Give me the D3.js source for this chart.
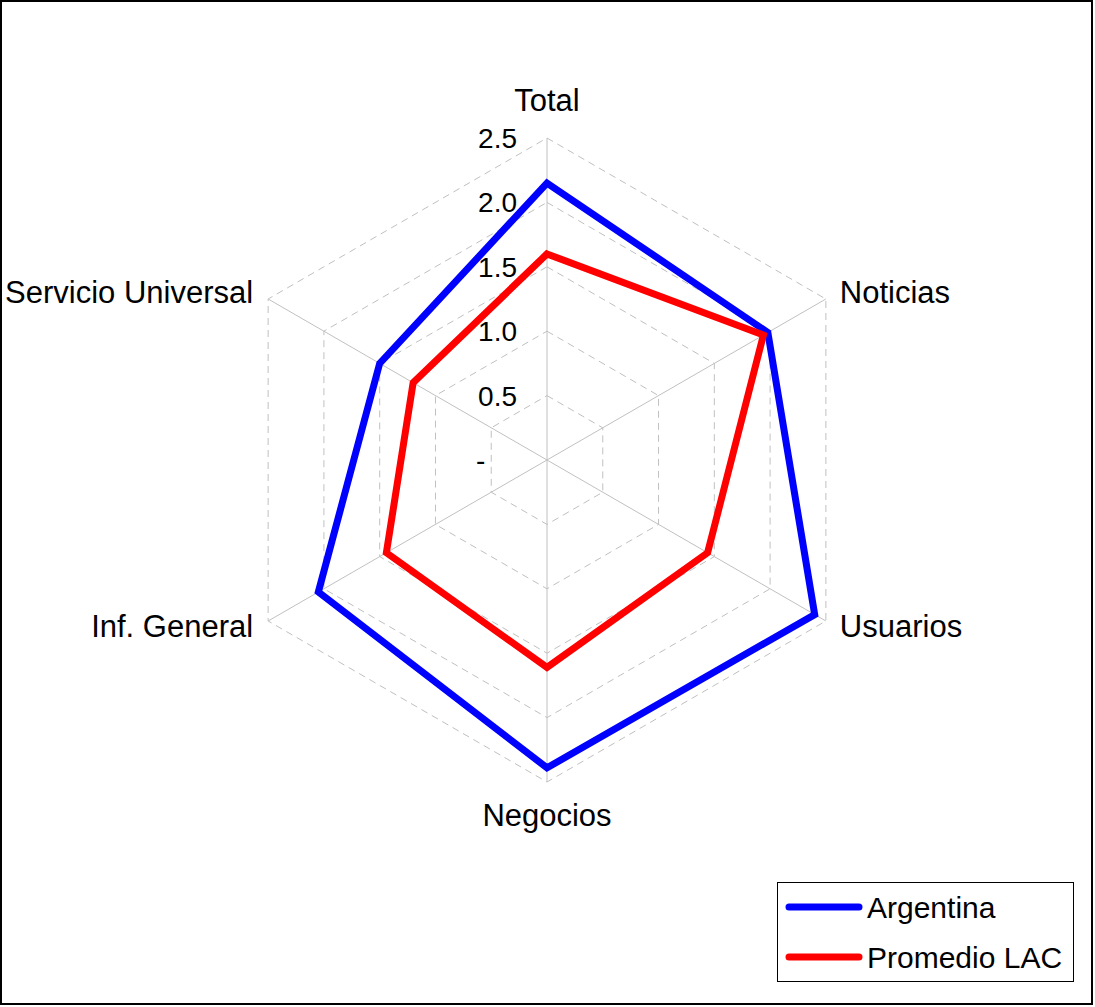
<!DOCTYPE html>
<html>
<head>
<meta charset="utf-8">
<script src="https://cdn.jsdelivr.net/npm/d3@7"></script>
<style>
  html, body { margin: 0; padding: 0; background: #fff; }
  svg { display: block; }
  text { font-family: "Liberation Sans", Arial, sans-serif; fill: #000; }
</style>
</head>
<body>
<div id="chart"></div>
<script>
const categories = ["Total", "Noticias", "Usuarios", "Negocios", "Inf. General", "Servicio Universal"];
const argentina = [2.15, 1.98, 2.40, 2.39, 2.05, 1.50];
const promedioLAC = [1.60, 1.94, 1.44, 1.61, 1.44, 1.20];
const tickValues = [0, 0.5, 1.0, 1.5, 2.0, 2.5];
const tickLabels = ["-", "0.5", "1.0", "1.5", "2.0", "2.5"];
const seriesNames = ["Argentina", "Promedio LAC"];
const seriesColors = ["#0000FF", "#FF0000"];

const W = 1095, H = 1007;
const cx = 547, cy = 460, R = 322;

const svg = d3.select("#chart").append("svg")
  .attr("width", W).attr("height", H);

svg.append("rect").attr("x", 1).attr("y", 1).attr("width", W - 4).attr("height", H - 4)
  .attr("fill", "#fff").attr("stroke", "#000").attr("stroke-width", 2);

const r = d3.scaleLinear().domain([0, 2.5]).range([0, R]);
const angle = d3.scalePoint().domain(categories).range([0, 2 * Math.PI * (categories.length - 1) / categories.length]);

function pt(cat, v) {
  const a = angle(cat) - Math.PI / 2;
  return [cx + r(v) * Math.cos(a), cy + r(v) * Math.sin(a)];
}

const g = svg.append("g");

// grid hexagons (dashed)
tickValues.filter(t => t > 0).forEach(t => {
  g.append("path")
    .attr("d", d3.line()(categories.map(c => pt(c, t))) + "Z")
    .attr("fill", "none").attr("stroke", "#c0c0c0").attr("stroke-width", 1)
    .attr("stroke-dasharray", "7,5");
});

// spokes
categories.forEach(c => {
  const p = pt(c, 2.5);
  g.append("line").attr("x1", cx).attr("y1", cy).attr("x2", p[0]).attr("y2", p[1])
    .attr("stroke", "#c0c0c0").attr("stroke-width", 1);
});

// tick labels
tickValues.forEach((t, i) => {
  const y = cy - r(t);
  const isZero = t === 0;
  g.append("text")
    .attr("x", isZero ? cx - 71 : cx - 30)
    .attr("y", y + 10)
    .attr("text-anchor", isZero ? "start" : "end")
    .attr("font-size", 28)
    .text(tickLabels[i]);
});

// series
[argentina, promedioLAC].forEach((vals, si) => {
  g.append("path")
    .attr("d", d3.line()(categories.map((c, i) => pt(c, vals[i]))) + "Z")
    .attr("fill", "none").attr("stroke", seriesColors[si]).attr("stroke-width", 7)
    .attr("stroke-linejoin", "miter");
});

// category labels
categories.forEach(c => {
  const a = angle(c) - Math.PI / 2;
  const p = pt(c, 2.5);
  const cosA = Math.cos(a), sinA = Math.sin(a);
  let x, y, anchor;
  if (Math.abs(cosA) < 0.1) {
    x = p[0]; anchor = "middle";
    y = sinA < 0 ? p[1] - 27 : p[1] + 44;
  } else {
    anchor = cosA > 0 ? "start" : "end";
    x = p[0] + (cosA > 0 ? 14 : -15);
    y = p[1] + 10 + 12 * sinA;
  }
  g.append("text").attr("x", x).attr("y", y).attr("text-anchor", anchor)
    .attr("font-size", 31).text(c);
});

// legend
const lg = svg.append("g");
lg.append("rect").attr("x", 777.5).attr("y", 882.5).attr("width", 296).attr("height", 99)
  .attr("fill", "#fff").attr("stroke", "#000").attr("stroke-width", 1);
seriesNames.forEach((n, i) => {
  const y = 907 + i * 50;
  lg.append("line").attr("x1", 789).attr("x2", 859).attr("y1", y).attr("y2", y)
    .attr("stroke", seriesColors[i]).attr("stroke-width", 7).attr("stroke-linecap", "round");
  lg.append("text").attr("x", 867).attr("y", y + 11).attr("font-size", 30).text(n);
});
</script>
</body>
</html>
